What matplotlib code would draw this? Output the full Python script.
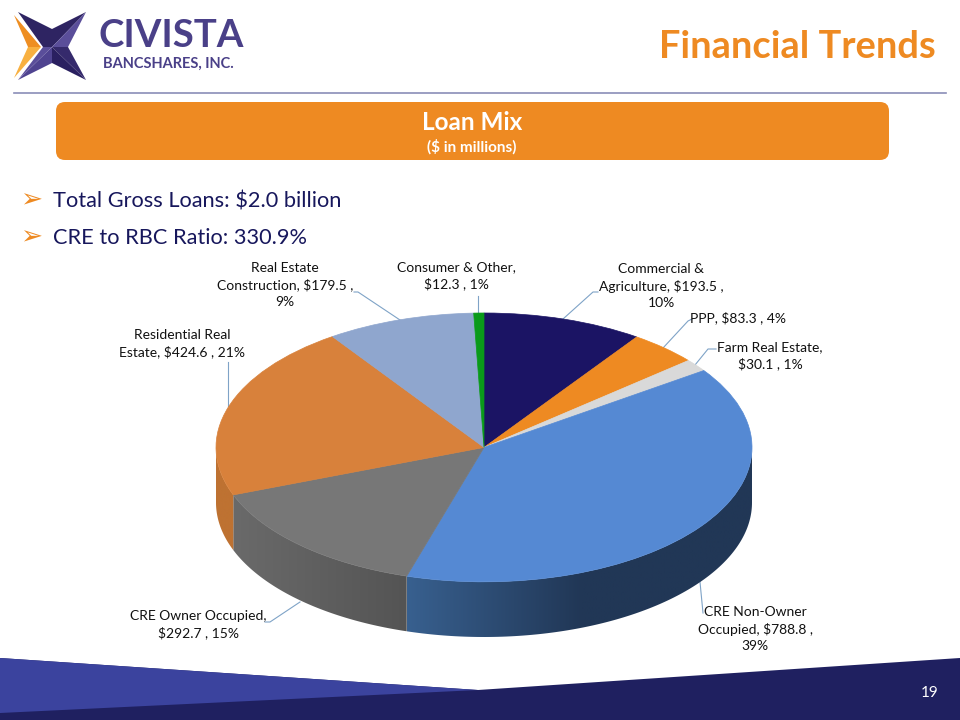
import numpy as np
import matplotlib
matplotlib.use("Agg")
import matplotlib.pyplot as plt
from matplotlib.colors import to_rgb
from matplotlib.patches import FancyBboxPatch, Polygon

plt.rcParams['font.family'] = ['Lato', 'DejaVu Sans']

# data
categories = ['Commercial &\nAgriculture, $193.5 ,\n10%', 'PPP, $83.3 , 4%',
              'Farm Real Estate,\n$30.1 , 1%', 'CRE Non-Owner\nOccupied, $788.8 ,\n39%',
              'CRE Owner Occupied,\n$292.7 , 15%', 'Residential Real\nEstate, $424.6 , 21%',
              'Real Estate\nConstruction, $179.5 ,\n9%', 'Consumer & Other,\n$12.3 , 1%']
values = [193.5, 83.3, 30.1, 788.8, 292.7, 424.6, 179.5, 12.3]
colors = ['#1B1464', '#EE8A22', '#D9D9D9', '#5589D3', '#777777', '#D8813B', '#8FA6CE', '#0A9A1A']
side_left = ['#1B1464', '#C0702F', '#B0B0B0', '#38608F', '#6A6A6A', '#BE7232', '#7080A0', '#087010']
side_right = ['#1B1464', '#C0702F', '#B0B0B0', '#213756', '#545454', '#BE7232', '#7080A0', '#087010']
bullets = ['Total Gross Loans: $2.0 billion', 'CRE to RBC Ratio: 330.9%']

label_x = [661, 738, 770, 755, 198, 182, 285, 456]
label_y = [286, 318, 356, 629, 625, 344, 285, 276]
# leader lines: slice end, elbow, end at the label
line_x = [[563, 593, 598], [663, 688, 692], [695, 708, 716], [700, 703, 703],
          [300, 270, 265], [228, 228, 228], [400, 358, 354], [478, 478, 478]]
line_y = [[319, 292, 292], [348, 321, 319], [365, 349, 349], [582, 613, 613],
          [602, 622, 622], [406, 362, 362], [320, 292, 292], [313, 296, 296]]

NAVY = '#17175C'
ORANGE = '#EE8A22'

fig = plt.figure(figsize=(9.6, 7.2), dpi=100)
bg = fig.add_axes([0, 0, 1, 1])
bg.set_xlim(0, 960)
bg.set_ylim(720, 0)
bg.axis('off')

# logo
TL, TR, BR, BL = [18, 12], [86, 12], [86, 80], [18, 80]
top_n, right_n, bot_n, left_n, mid = [52, 29], [68, 47], [52, 63], [43, 47], [52, 47]
bg.add_patch(Polygon([[14, 15], [41, 47], [28, 47]], fc='#EE8E22', ec='none'))
bg.add_patch(Polygon([[14, 78], [41, 47], [28, 47]], fc='#F8B040', ec='none'))
for pts, c in [([TL, top_n, mid, left_n], '#2E2462'),
               ([TR, top_n, mid], '#2E2462'),
               ([TR, right_n, mid], '#5A4E9A'),
               ([BR, right_n, mid], '#352A6C'),
               ([BR, bot_n, mid], '#2A2060'),
               ([BL, bot_n, mid], '#4F4390'),
               ([BL, left_n, mid], '#5A4E9A')]:
    bg.add_patch(Polygon(pts, fc=c, ec='none'))
bg.text(99, 36, 'CIVISTA', fontsize=27.6, weight='bold', color='#4A4088', va='center', ha='left')
bg.text(103, 64, 'BANCSHARES, INC.', fontsize=10.5, weight='bold', color='#4A4088', va='center', ha='left')

bg.text(936, 47, 'Financial Trends', fontsize=27.4, weight='bold', color=ORANGE, va='center', ha='right')
bg.plot([14, 946], [92.5, 92.5], color='#8A8DB8', lw=1.2)

# banner
bg.add_patch(FancyBboxPatch((56, 102), 833, 58, boxstyle='round,pad=0,rounding_size=9',
                            fc=ORANGE, ec='none'))
bg.text(472, 122, 'Loan Mix', fontsize=17.5, weight='bold', color='white', ha='center', va='center')
bg.text(472, 147, '($ in millions)', fontsize=11, weight='bold', color='white', ha='center', va='center')

# bullets
for y, b in zip([199, 236], bullets):
    bg.text(31, y + 1, '\u27a2', fontsize=19, color=ORANGE, ha='center', va='center', family='DejaVu Sans')
    bg.text(53, y + 2, b, fontsize=15.7, color=NAVY, ha='left', va='center')

# footer
bg.add_patch(Polygon([[0, 658], [478, 690], [960, 658], [960, 720], [0, 720]], fc='#1F2060', ec='none'))
bg.add_patch(Polygon([[0, 658], [478, 690], [0, 713]], fc='#3B439E', ec='none'))
bg.text(930, 693, '19', fontsize=11, color='white', ha='center', va='center')

# pie, top face is an ellipse 536 wide 268 tall, rim 55 px below
left, right, top, rim_bottom = 216, 752, 313, 637
ax = fig.add_axes([left / 960, 1 - rim_bottom / 720, (right - left) / 960, (rim_bottom - top) / 720])
wedges, _ = ax.pie(values, colors=colors, startangle=90, counterclock=False, radius=1,
                   wedgeprops={'linewidth': 0.5, 'zorder': 5})
for w, c in zip(wedges, colors):
    w.set_edgecolor(c)
depth = 55 / 134

# rim, only the front half shows. shading goes left to right and flattens out
rim_fade = 0.65
fracs = np.array(values) / sum(values)
edges = 360 * np.concatenate([[0], np.cumsum(fracs)])
for i in range(len(values)):
    a0, a1 = max(edges[i], 90), min(edges[i + 1], 270)
    if a1 <= a0:
        continue
    th = np.radians(np.linspace(a0, a1, 120))
    xs = np.sin(th)
    ys = np.cos(th)
    x_left, x_right = xs.min(), xs.max()
    t = np.clip((np.linspace(x_left, x_right, 256) - x_left) / rim_fade, 0, 1)[None, :, None]
    shade = np.array(to_rgb(side_left[i])) * (1 - t) + np.array(to_rgb(side_right[i])) * t
    clip = Polygon(np.c_[np.r_[xs, xs[::-1]], np.r_[ys, ys[::-1] - depth]], closed=True,
                   transform=ax.transData)
    im = ax.imshow(shade, extent=(x_left, x_right, -1 - depth, 1), aspect='auto', zorder=2,
                   interpolation='bilinear')
    im.set_clip_path(clip)

ax.set_aspect('auto')
ax.set_xlim(-1, 1)
ax.set_ylim(-1 - depth, 1)
ax.axis('off')

# labels and leader lines
for name, lx, ly, xs, ys in zip(categories, label_x, label_y, line_x, line_y):
    bg.text(lx, ly, name, fontsize=10, color='#111111', ha='center', va='center', linespacing=1.4, zorder=6)
    bg.plot(xs, ys, color='#7FA3C7', lw=0.8, zorder=1)

fig.savefig('out.png', dpi=100)
